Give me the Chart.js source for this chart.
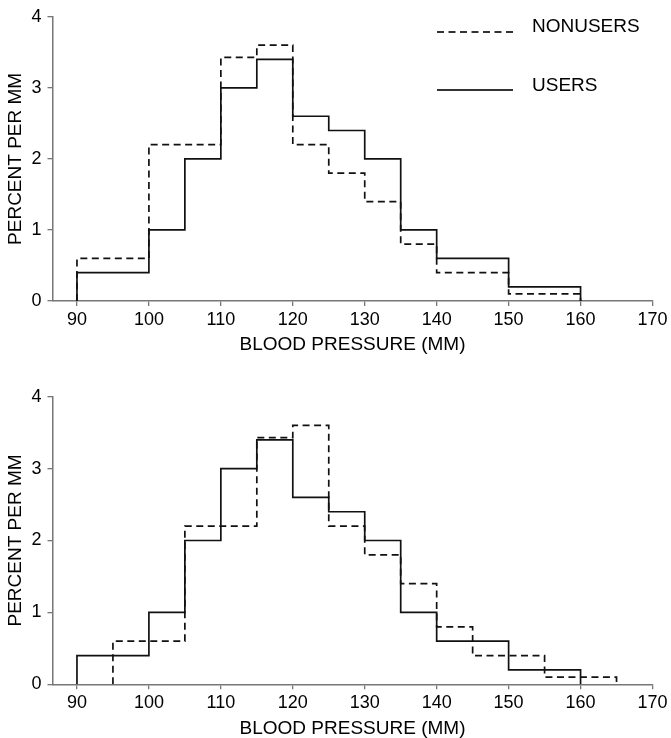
<!DOCTYPE html>
<html>
<head>
<meta charset="utf-8">
<script src="https://cdn.jsdelivr.net/npm/chart.js@4.4.0/dist/chart.umd.min.js"></script>
<style>
  html, body { margin: 0; padding: 0; background: #fff; }
  .box { position: relative; width: 671px; height: 369px; }
</style>
</head>
<body>
<div class="box"><canvas id="chartTop"></canvas></div>
<div class="box"><canvas id="chartBottom"></canvas></div>
<script>
// bin edges and heights (percent per mm)
var userEdges = [90, 100, 105, 110, 115, 120, 125, 130, 135, 140, 150, 160];
var userHeights = [0.4, 1.0, 2.0, 3.0, 3.4, 2.6, 2.4, 2.0, 1.0, 0.6, 0.2];
var nonuserEdges = [90, 100, 110, 115, 120, 125, 130, 135, 140, 150, 160];
var nonuserHeights = [0.6, 2.2, 3.43, 3.6, 2.2, 1.8, 1.4, 0.8, 0.4, 0.1];
// lower panel: nonusers moved 5 mm to the right
var shiftedEdges = [95, 105, 115, 120, 125, 130, 135, 140, 145, 155, 165];
var shiftedHeights = [0.6, 2.2, 3.43, 3.6, 2.2, 1.8, 1.4, 0.8, 0.4, 0.1];

var xTicks = [90, 100, 110, 120, 130, 140, 150, 160, 170];
var yTicks = [0, 1, 2, 3, 4];

var FONT = "'Liberation Sans', Arial, sans-serif";

// outline of a histogram: up at the first edge, across each bin, down at the last edge
function stepPoints(edges, heights) {
  var pts = [{x: edges[0], y: 0}];
  for (var i = 1; i < edges.length; i++) {
    pts.push({x: edges[i - 1], y: heights[i - 1]});
    pts.push({x: edges[i], y: heights[i - 1]});
  }
  pts.push({x: edges[edges.length - 1], y: 0});
  return pts;
}

function datasets(nEdges, nHeights) {
  return [{
    label: 'NONUSERS',
    data: stepPoints(nEdges, nHeights),
    borderColor: '#111',
    borderWidth: 1.7,
    borderDash: [7, 4.5],
    pointRadius: 0,
    tension: 0,
    fill: false
  }, {
    label: 'USERS',
    data: stepPoints(userEdges, userHeights),
    borderColor: '#111',
    borderWidth: 1.7,
    pointRadius: 0,
    tension: 0,
    fill: false
  }];
}

var legendPlugin = {
  id: 'stepLegend',
  afterDraw: function (chart, args, opts) {
    if (!opts.items) return;
    var ctx = chart.ctx;
    ctx.save();
    opts.items.forEach(function (item) {
      var ds = chart.data.datasets[item.dataset];
      ctx.strokeStyle = '#333';
      ctx.lineWidth = 1.8;
      ctx.setLineDash(ds.borderDash || []);
      ctx.beginPath();
      ctx.moveTo(item.x0, item.y);
      ctx.lineTo(item.x1, item.y);
      ctx.stroke();
      ctx.setLineDash([]);
      ctx.fillStyle = '#000';
      ctx.font = '19px ' + FONT;
      ctx.textBaseline = 'alphabetic';
      ctx.fillText(ds.label, item.tx, item.ty);
    });
    ctx.restore();
  }
};

function options(cfg) {
  return {
    responsive: true,
    maintainAspectRatio: false,
    animation: false,
    layout: { padding: { top: cfg.top, right: 18.5, bottom: 0, left: 0 } },
    plugins: {
      legend: { display: false },
      tooltip: { enabled: false },
      stepLegend: { items: cfg.legend }
    },
    scales: {
      x: {
        type: 'linear',
        min: 86.6,
        max: 170,
        afterBuildTicks: function (s) { s.ticks = xTicks.map(function (v) { return {value: v}; }); },
        afterFit: function (s) { s.height = cfg.axisH; },
        grid: { drawOnChartArea: false, drawTicks: true, tickLength: 5, color: '#777', lineWidth: 1.3 },
        border: { display: true, color: '#777', width: 1.5 },
        ticks: { color: '#000', font: { size: 18, family: FONT }, padding: 3, maxRotation: 0, autoSkip: false },
        title: {
          display: true, text: 'BLOOD PRESSURE (MM)', color: '#000',
          font: { size: 19, family: FONT, lineHeight: 1 },
          padding: { top: 0, bottom: cfg.titlePad }
        }
      },
      y: {
        type: 'linear',
        min: 0,
        max: 4,
        afterBuildTicks: function (s) { s.ticks = yTicks.map(function (v) { return {value: v}; }); },
        afterFit: function (s) { s.width = 52.5; },
        grid: { drawOnChartArea: false, drawTicks: true, tickLength: 5, color: '#777', lineWidth: 1.3 },
        border: { display: true, color: '#777', width: 1.5 },
        ticks: { color: '#000', font: { size: 18, family: FONT }, padding: 6 },
        title: {
          display: true, text: 'PERCENT PER MM', color: '#000',
          font: { size: 19, family: FONT, lineHeight: 1 },
          padding: { top: 6, bottom: 0 }
        }
      }
    }
  };
}

new Chart(document.getElementById('chartTop'), {
  type: 'line',
  data: { datasets: datasets(nonuserEdges, nonuserHeights) },
  options: options({
    top: 14, axisH: 68, titlePad: 14.8,
    legend: [
      { dataset: 0, x0: 437, x1: 513, y: 32, tx: 532, ty: 32.3 },
      { dataset: 1, x0: 437, x1: 513, y: 90, tx: 532, ty: 90.7 }
    ]
  }),
  plugins: [legendPlugin]
});

new Chart(document.getElementById('chartBottom'), {
  type: 'line',
  data: { datasets: datasets(shiftedEdges, shiftedHeights) },
  options: options({ top: 27.7, axisH: 53.7, titlePad: 0.2, legend: null }),
  plugins: [legendPlugin]
});
</script>
</body>
</html>
